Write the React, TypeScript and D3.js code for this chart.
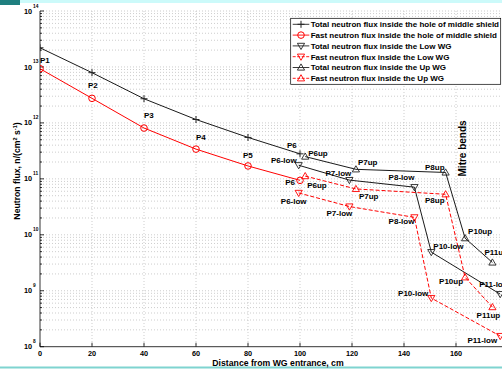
import * as d3 from "d3";

// Distance from WG entrance, cm
const xHole = [0, 20, 40, 60, 80, 100];
const xLow = [99.5, 119, 144, 150.5, 177];
const xUp = [102, 121.5, 156, 163.5, 174];

// Neutron flux, n/(cm2 s)
const totalHole = [2.2e13, 7.9e12, 2.7e12, 1.15e12, 5.5e11, 2.8e11];
const fastHole = [9.3e12, 2.75e12, 8.1e11, 3.4e11, 1.7e11, 9.4e10];
const totalLow = [1.75e11, 9.5e10, 7.1e10, 4.9e9, 8.7e8];
const fastLow = [5.6e10, 3.2e10, 2.05e10, 7.4e8, 1.55e8];
const totalUp = [2.5e11, 1.48e11, 1.3e11, 8.7e9, 3.2e9];
const fastUp = [1.12e11, 6.6e10, 5.3e10, 1.74e9, 5.1e8];

const xTicks = [0, 20, 40, 60, 80, 100, 120, 140, 160];
const yExponents = [8, 9, 10, 11, 12, 13, 14];

type Marker = "plus" | "circle" | "down" | "up";

const series = [
  { key: "th", name: "Total neutron flux inside the hole of middle shield", x: xHole, y: totalHole, color: "#000", marker: "plus" as Marker, dash: "" },
  { key: "fh", name: "Fast neutron flux inside the hole of middle shield", x: xHole, y: fastHole, color: "#ff0000", marker: "circle" as Marker, dash: "" },
  { key: "tl", name: "Total neutron flux inside the Low WG", x: xLow, y: totalLow, color: "#000", marker: "down" as Marker, dash: "" },
  { key: "fl", name: "Fast neutron flux inside the Low WG", x: xLow, y: fastLow, color: "#ff0000", marker: "down" as Marker, dash: "4,2" },
  { key: "tu", name: "Total neutron flux inside the Up WG", x: xUp, y: totalUp, color: "#000", marker: "up" as Marker, dash: "" },
  { key: "fu", name: "Fast neutron flux inside the Up WG", x: xUp, y: fastUp, color: "#ff0000", marker: "up" as Marker, dash: "4,2" },
];

// point labels: attached to a series point, offset in px
const pointLabels = [
  { t: "P1", s: "th", i: 0, dx: 0, dy: 12, a: "start" },
  { t: "P2", s: "th", i: 1, dx: -4, dy: 13, a: "start" },
  { t: "P3", s: "th", i: 2, dx: 0, dy: 16, a: "start" },
  { t: "P4", s: "th", i: 3, dx: 0, dy: 18, a: "start" },
  { t: "P5", s: "th", i: 4, dx: -5, dy: 18, a: "start" },
  { t: "P6", s: "th", i: 5, dx: -13, dy: -9, a: "start" },
  { t: "P6", s: "fh", i: 5, dx: -5, dy: 2, a: "end" },
  { t: "P6up", s: "tu", i: 0, dx: 3, dy: -3, a: "start" },
  { t: "P6-low", s: "tl", i: 0, dx: -2, dy: -5, a: "end" },
  { t: "P7-low", s: "tl", i: 1, dx: -11, dy: -7, a: "middle" },
  { t: "P7up", s: "tu", i: 1, dx: 2, dy: -7, a: "start" },
  { t: "P8-low", s: "tl", i: 2, dx: 0, dy: -10, a: "end" },
  { t: "P8up", s: "tu", i: 2, dx: -1, dy: -5, a: "end" },
  { t: "P6up", s: "fu", i: 0, dx: 2, dy: 9, a: "start" },
  { t: "P6-low", s: "fl", i: 0, dx: -5, dy: 8, a: "middle" },
  { t: "P7up", s: "fu", i: 1, dx: 3, dy: 7, a: "start" },
  { t: "P7-low", s: "fl", i: 1, dx: -10, dy: 7, a: "middle" },
  { t: "P8up", s: "fu", i: 2, dx: -1, dy: 6, a: "end" },
  { t: "P8-low", s: "fl", i: 2, dx: 0, dy: 4, a: "end" },
  { t: "P10up", s: "tu", i: 3, dx: 3, dy: -7, a: "start" },
  { t: "P10-low", s: "tl", i: 3, dx: 2, dy: -6, a: "start" },
  { t: "P11up", s: "tu", i: 4, dx: -8, dy: -10, a: "start" },
  { t: "P11-low", s: "tl", i: 4, dx: -21, dy: -10, a: "start" },
  { t: "P10up", s: "fu", i: 3, dx: -2, dy: 4, a: "end" },
  { t: "P10-low", s: "fl", i: 3, dx: -3, dy: -5, a: "end" },
  { t: "P11up", s: "fu", i: 4, dx: -4, dy: 8, a: "middle" },
  { t: "P11-low", s: "fl", i: 4, dx: -3, dy: 4, a: "end" },
];

const W = 502;
const H = 369;
const FONT = "'Liberation Sans', Arial, sans-serif";

function MarkerShape({ m, cx, cy, color }: { m: Marker; cx: number; cy: number; color: string }) {
  const stroke = color === "#000" ? "#222" : color;
  if (m === "plus")
    return <path d={`M${cx - 3.5},${cy}H${cx + 3.5}M${cx},${cy - 3.5}V${cy + 3.5}`} stroke={stroke} strokeWidth={1} />;
  if (m === "circle") return <circle cx={cx} cy={cy} r={3.3} fill="none" stroke={stroke} strokeWidth={1} />;
  if (m === "down")
    return <path d={`M${cx - 3.6},${cy - 2.6}L${cx + 3.6},${cy - 2.6}L${cx},${cy + 3.6}Z`} fill="none" stroke={stroke} strokeWidth={0.9} />;
  return <path d={`M${cx - 3.6},${cy + 2.6}L${cx + 3.6},${cy + 2.6}L${cx},${cy - 3.6}Z`} fill="none" stroke={stroke} strokeWidth={0.9} />;
}

export default function App() {
  const left = 40, right = 508, top = 11, bottom = 346.7;
  const x = d3.scaleLinear().domain([0, 180]).range([left, right]);
  const y = d3.scaleLog().domain([1e8, 1e14]).range([bottom, top]);

  const minorY: number[] = [];
  yExponents.slice(0, -1).forEach((e) => {
    for (let k = 2; k <= 9; k++) minorY.push(k * Math.pow(10, e));
  });

  const line = d3.line<[number, number]>().x((d) => x(d[0])).y((d) => y(d[1]));
  const byKey: Record<string, (typeof series)[number]> = {};
  series.forEach((s) => (byKey[s.key] = s));

  const lg = { x0: 290.7, y0: 18.3, x1: 500.7, y1: 84.3, first: 24.3, step: 10.8 };

  return (
    <svg width={W} height={H} style={{ position: "absolute", left: 0, top: 0, background: "#fff" }} fontFamily={FONT}>
      <defs>
        <clipPath id="plot">
          <rect x={left} y={top - 6} width={right - left + 6} height={bottom - top + 12} />
        </clipPath>
      </defs>
      {/* slide decoration */}
      <rect x={0} y={0} width={W} height={3} fill="#ccfafa" />
      <rect x={0} y={0} width={20} height={5} fill="#1f7f7f" />
      <rect x={0} y={366.5} width={W} height={2} fill="#7fd4d0" />

      {/* grid */}
      <g stroke="#b8b8b8" strokeWidth={0.7} strokeDasharray="1,2">
        {xTicks.slice(1).map((t) => (
          <line key={"gx" + t} x1={x(t)} x2={x(t)} y1={top} y2={bottom} />
        ))}
        {minorY.concat(yExponents.slice(1).map((e) => Math.pow(10, e))).map((v, i) => (
          <line key={"gy" + i} x1={left} x2={W} y1={y(v)} y2={y(v)} />
        ))}
      </g>

      {/* axes */}
      <g stroke="#000" strokeWidth={0.8}>
        <line x1={left} x2={left} y1={top} y2={bottom} />
        <line x1={left} x2={W} y1={bottom} y2={bottom} />
        {xTicks.map((t) => (
          <line key={"tx" + t} x1={x(t)} x2={x(t)} y1={bottom} y2={bottom - 4} />
        ))}
        {yExponents.map((e) => (
          <line key={"ty" + e} x1={left} x2={left + 4} y1={y(Math.pow(10, e))} y2={y(Math.pow(10, e))} />
        ))}
        {minorY.map((v, i) => (
          <line key={"tm" + i} x1={left} x2={left + 2} y1={y(v)} y2={y(v)} />
        ))}
      </g>
      <g fontSize={7.3} fontWeight="bold" fill="#000">
        {xTicks.map((t) => (
          <text key={"lx" + t} x={x(t)} y={353} dy="0.35em" textAnchor="middle">
            {t}
          </text>
        ))}
        {yExponents.map((e) => (
          <text key={"ly" + e} x={32} y={y(Math.pow(10, e))} dy="0.35em" textAnchor="end">
            10
          </text>
        ))}
        {yExponents.map((e) => (
          <text key={"le" + e} x={33} y={y(Math.pow(10, e)) - 3.5} fontSize={4.8} textAnchor="start">
            {e}
          </text>
        ))}
      </g>
      <text x={278} y={362.5} dy="0.35em" textAnchor="middle" fontSize={8.7} fontWeight="bold">
        Distance from WG entrance, cm
      </text>
      <text transform="translate(17,171) rotate(-90)" textAnchor="middle" dy="0.35em" fontSize={8.7} fontWeight="bold">
        Neutron flux, n/(cm<tspan fontSize={5.5} dy={-3}>2</tspan>
        <tspan dy={3}> s</tspan>
        <tspan fontSize={5.5} dy={-3}>-1</tspan>
        <tspan dy={3}>)</tspan>
      </text>

      {/* series */}
      <g clipPath="url(#plot)">
        {series.map((s) => (
          <path
            key={"l" + s.key}
            d={line(s.x.map((v, i) => [v, s.y[i]] as [number, number])) || ""}
            fill="none"
            stroke={s.color}
            strokeWidth={s.color === "#000" ? 0.9 : 1}
            strokeDasharray={s.dash}
          />
        ))}
        {series.map((s) =>
          s.x.map((v, i) => <MarkerShape key={s.key + i} m={s.marker} cx={x(v)} cy={y(s.y[i])} color={s.color} />)
        )}
      </g>

      {/* point labels */}
      <g fontSize={8} fontWeight="bold" fill="#000">
        {pointLabels.map((p, k) => {
          const s = byKey[p.s];
          return (
            <text key={"p" + k} x={x(s.x[p.i]) + p.dx} y={y(s.y[p.i]) + p.dy} dy="0.35em" textAnchor={p.a as any}>
              {p.t}
            </text>
          );
        })}
      </g>
      <text transform={`translate(${x(162.5)},${y(3.5e11)}) rotate(-90)`} textAnchor="middle" dy="0.35em" fontSize={10} fontWeight="bold">
        Mitre bends
      </text>

      {/* legend */}
      <rect x={lg.x0} y={lg.y0} width={lg.x1 - lg.x0} height={lg.y1 - lg.y0} fill="#fff" stroke="#000" strokeWidth={0.7} />
      {series.map((s, i) => {
        const cy = lg.first + i * lg.step;
        return (
          <g key={"lg" + s.key}>
            <line x1={292.7} x2={309.3} y1={cy} y2={cy} stroke={s.color === "#000" ? "#222" : s.color} strokeWidth={0.9} strokeDasharray={s.dash ? "3,1.5" : ""} />
            <MarkerShape m={s.marker} cx={301} cy={cy} color={s.color} />
            <text x={310.7} y={cy} dy="0.35em" fontSize={8} fontWeight="bold">
              {s.name}
            </text>
          </g>
        );
      })}
    </svg>
  );
}
